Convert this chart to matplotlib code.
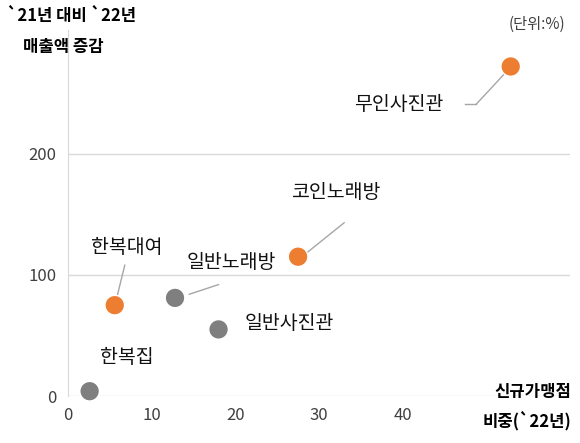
import matplotlib
matplotlib.use('Agg')
import matplotlib.pyplot as plt

plt.rcParams['font.family'] = ['Noto Sans CJK KR', 'DejaVu Sans']

names = ['무인사진관', '코인노래방', '한복대여', '일반노래방', '일반사진관', '한복집']
share = [52.9, 27.5, 5.6, 12.8, 18.0, 2.6]
growth = [272, 115, 75, 81, 55, 4]
colors = ['#ED7D31', '#ED7D31', '#ED7D31', '#7F7F7F', '#7F7F7F', '#7F7F7F']
# label position (data coords), leader line start/end or None
label_pos = [(39.5, 241), (32, 168), (7, 123), (19.5, 110), (26.5, 60), (7, 32)]
leaders = [((48.8, 241), (52.3, 267)), ((28.5, 118), (33, 143)),
           ((6.8, 108), (5.8, 80)), ((14.5, 84), (18, 92)), None, None]

fig = plt.figure(figsize=(5.8, 4.43), dpi=100)
ax = fig.add_axes([0.117, 0.106, 0.866, 0.826])
ax.set_xlim(0, 60)
ax.set_ylim(0, 302)
ax.set_xticks([0, 10, 20, 30, 40])
ax.set_yticks([0, 100, 200])
ax.grid(axis='y', color='#D9D9D9', lw=1)
ax.set_axisbelow(True)
for s in ['top', 'right', 'bottom']:
    ax.spines[s].set_visible(False)
ax.spines['left'].set_color('#D9D9D9')
ax.tick_params(length=0, labelsize=12, colors='#404040', pad=8)

ax.scatter(share, growth, s=200, c=colors, edgecolors='white', linewidths=1, zorder=3, clip_on=False)
for n, (lx, ly), ld in zip(names, label_pos, leaders):
    ax.text(lx, ly, n, fontsize=14, fontweight='medium', ha='center', va='center', color='#111111')
    if ld:
        ax.plot([ld[0][0], ld[1][0]], [ld[0][1], ld[1][1]], color='#A6A6A6', lw=1)
ax.plot([47.5, 48.8], [241, 241], color='#A6A6A6', lw=1)

fig.text(0.012, 0.965, '`21년 대비 `22년', fontsize=12, fontweight='bold', va='center')
fig.text(0.04, 0.895, '매출액 증감', fontsize=12, fontweight='bold', va='center')
fig.text(0.975, 0.945, '(단위:%)', fontsize=11, ha='right', va='center', color='#404040')
fig.text(0.985, 0.115, '신규가맹점', fontsize=12, fontweight='bold', ha='right', va='center')
fig.text(0.985, 0.05, '비중(`22년)', fontsize=12, fontweight='bold', ha='right', va='center')

fig.savefig('out.png')
